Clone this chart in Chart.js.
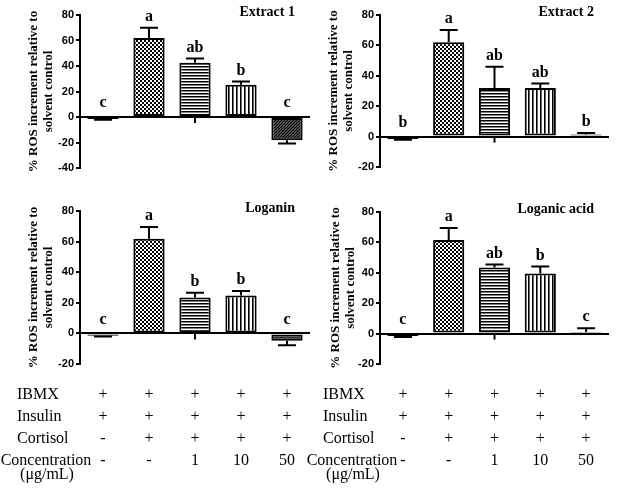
<!DOCTYPE html>
<html>
<head>
<meta charset="utf-8">
<script src="https://cdn.jsdelivr.net/npm/chart.js@4.4.0/dist/chart.umd.min.js"></script>
<style>
body { margin: 0; background: #fff; width: 640px; height: 492px; position: relative; overflow: hidden; }
.panel { position: absolute; }
</style>
</head>
<body>
<div class="panel" style="left:0;top:0;width:320px;height:195px"><canvas id="extract1"></canvas></div>
<div class="panel" style="left:320px;top:0;width:320px;height:195px"><canvas id="extract2"></canvas></div>
<div class="panel" style="left:0;top:195px;width:320px;height:297px"><canvas id="loganin"></canvas></div>
<div class="panel" style="left:300px;top:195px;width:340px;height:297px"><canvas id="loganic"></canvas></div>
<script>
var categories = ['Control', 'Differentiated', '1', '10', '50'];

var extract1Values = [-1.5, 62, 42.5, 25.3, -18.2];
var extract1Errors = [0.6, 8, 3.4, 2.6, 2.6];
var extract1Letters = ['c', 'a', 'ab', 'b', 'c'];

var extract2Values = [-1.5, 62, 32, 32, 1.3];
var extract2Errors = [0.5, 8.2, 14, 3, 1.1];
var extract2Letters = ['b', 'a', 'ab', 'ab', 'b'];

var loganinValues = [-1.5, 61.8, 23.5, 24.8, -4.8];
var loganinErrors = [0.5, 7.8, 3, 2.9, 3];
var loganinLetters = ['c', 'a', 'b', 'b', 'c'];

var loganicValues = [-1.5, 61.5, 43.5, 39.6, 1];
var loganicErrors = [0.8, 7.9, 2, 4.6, 2.5];
var loganicLetters = ['c', 'a', 'ab', 'b', 'c'];

var rowLabels = ['IBMX', 'Insulin', 'Cortisol'];
var ibmxRow = ['+', '+', '+', '+', '+'];
var insulinRow = ['+', '+', '+', '+', '+'];
var cortisolRow = ['-', '+', '+', '+', '+'];
var concentrationRow = ['-', '-', '1', '10', '50'];

var serif = '"Liberation Serif", "Times New Roman", serif';
var sans = '"Liberation Sans", Arial, sans-serif';

function makePattern(size, draw) {
    var c = document.createElement('canvas');
    c.width = size;
    c.height = size;
    var g = c.getContext('2d');
    g.fillStyle = '#fff';
    g.fillRect(0, 0, size, size);
    g.fillStyle = '#000';
    g.strokeStyle = '#000';
    draw(g, size);
    return g.createPattern(c, 'repeat');
}

var checker = makePattern(4, function (g) {
    g.fillRect(0, 0, 2, 2);
    g.fillRect(2, 2, 2, 2);
});
var hStripes = makePattern(3, function (g) {
    g.fillRect(0, 0, 3, 1.5);
});
var vStripes = makePattern(4, function (g) {
    g.fillRect(0, 0, 1.6, 4);
});
var diagonal = makePattern(3, function (g) {
    g.lineWidth = 1.6;
    g.beginPath();
    g.moveTo(-1, 4); g.lineTo(4, -1);
    g.moveTo(-1, 1); g.lineTo(1, -1);
    g.moveTo(2, 4); g.lineTo(4, 2);
    g.stroke();
});
var barFills = ['#fff', checker, hStripes, vStripes, diagonal];

// error bars, letters, panel title, the little middle tick, treatment table
var panelMarks = {
    id: 'panelMarks',
    afterDatasetsDraw: function (chart, args, opts) {
        var ctx = chart.ctx;
        var x = chart.scales.x;
        var y = chart.scales.y;
        var meta = chart.getDatasetMeta(0);
        var values = chart.data.datasets[0].data;
        var zero = y.getPixelForValue(0);
        ctx.save();
        ctx.strokeStyle = '#000';
        ctx.lineWidth = 2;
        ctx.fillStyle = '#000';
        values.forEach(function (v, i) {
            var cx = meta.data[i].x;
            var end = v < 0 ? v - opts.errors[i] : v + opts.errors[i];
            var y0 = y.getPixelForValue(v);
            var y1 = y.getPixelForValue(end);
            ctx.beginPath();
            ctx.moveTo(cx, y0);
            ctx.lineTo(cx, y1);
            ctx.moveTo(cx - 9, y1);
            ctx.lineTo(cx + 9, y1);
            ctx.stroke();

            var top = Math.max(end, 0);
            var ly = Math.min(y.getPixelForValue(top) - 11, zero - 14);
            ctx.font = 'bold 16px ' + serif;
            ctx.textAlign = 'center';
            ctx.textBaseline = 'middle';
            ctx.fillText(opts.letters[i], cx, ly);
        });

        var mid = meta.data[2].x;
        ctx.beginPath();
        ctx.moveTo(mid, zero);
        ctx.lineTo(mid, zero + 6);
        ctx.stroke();

        ctx.font = 'bold 14px ' + serif;
        ctx.textAlign = 'right';
        ctx.textBaseline = 'middle';
        ctx.fillText(opts.title, chart.chartArea.right - 15, chart.chartArea.top - 3);

        if (opts.tableX !== undefined) {
            var rowY = [200, 222, 244, 266];
            ctx.font = '16px ' + serif;
            ctx.textBaseline = 'middle';
            ctx.textAlign = 'left';
            rowLabels.forEach(function (lab, r) {
                ctx.fillText(lab, opts.tableX, rowY[r]);
            });
            ctx.textAlign = 'center';
            ctx.fillText('Concentration', opts.tableX + 29, rowY[3]);
            ctx.fillText('(\u03bcg/mL)', opts.tableX + 30, rowY[3] + 14);
            [ibmxRow, insulinRow, cortisolRow, concentrationRow].forEach(function (row, r) {
                row.forEach(function (s, i) {
                    ctx.fillText(s, x.getPixelForValue(i), rowY[r]);
                });
            });
        }
        ctx.restore();
    }
};

function makeChart(id, values, errors, letters, title, yMin, axisWidth, titlePad, padding, tableX) {
    return new Chart(document.getElementById(id), {
        type: 'bar',
        data: {
            labels: categories,
            datasets: [{
                data: values,
                backgroundColor: barFills,
                borderColor: '#000',
                borderWidth: 2,
                borderSkipped: false,
                categoryPercentage: 1,
                barPercentage: 0.68
            }]
        },
        options: {
            responsive: true,
            maintainAspectRatio: false,
            animation: false,
            layout: { padding: padding },
            plugins: {
                legend: { display: false },
                tooltip: { enabled: false },
                panelMarks: { errors: errors, letters: letters, title: title, tableX: tableX }
            },
            scales: {
                x: { display: false },
                y: {
                    min: yMin,
                    max: 80,
                    afterFit: function (scale) { scale.width = axisWidth; },
                    ticks: {
                        stepSize: 20,
                        color: '#000',
                        padding: 2,
                        font: { family: sans, size: 11, weight: 'bold' }
                    },
                    grid: {
                        color: function (c) { return c.tick && c.tick.value === 0 ? '#000' : 'rgba(0,0,0,0)'; },
                        lineWidth: 2,
                        drawTicks: true,
                        tickLength: 4,
                        tickColor: '#000',
                        tickWidth: 2
                    },
                    border: { display: true, color: '#000', width: 2 },
                    title: {
                        display: true,
                        text: ['% ROS increment relative to', 'solvent control'],
                        color: '#000',
                        padding: { top: titlePad, bottom: 0 },
                        font: { family: serif, size: 13, weight: 'bold', lineHeight: 1.15 }
                    }
                }
            }
        },
        plugins: [panelMarks]
    });
}

makeChart('extract1', extract1Values, extract1Errors, extract1Letters, 'Extract 1', -40, 80, 26, { top: 15, right: 10, bottom: 27, left: 0 });
makeChart('extract2', extract2Values, extract2Errors, extract2Letters, 'Extract 2', -20, 60, 6, { top: 15, right: 31, bottom: 28, left: 0 });
makeChart('loganin', loganinValues, loganinErrors, loganinLetters, 'Loganin', -20, 80, 26, { top: 16, right: 10, bottom: 128, left: 0 }, 17);
makeChart('loganic', loganicValues, loganicErrors, loganicLetters, 'Loganic acid', -20, 80, 28, { top: 17, right: 31, bottom: 128, left: 0 }, 23);
</script>
</body>
</html>
